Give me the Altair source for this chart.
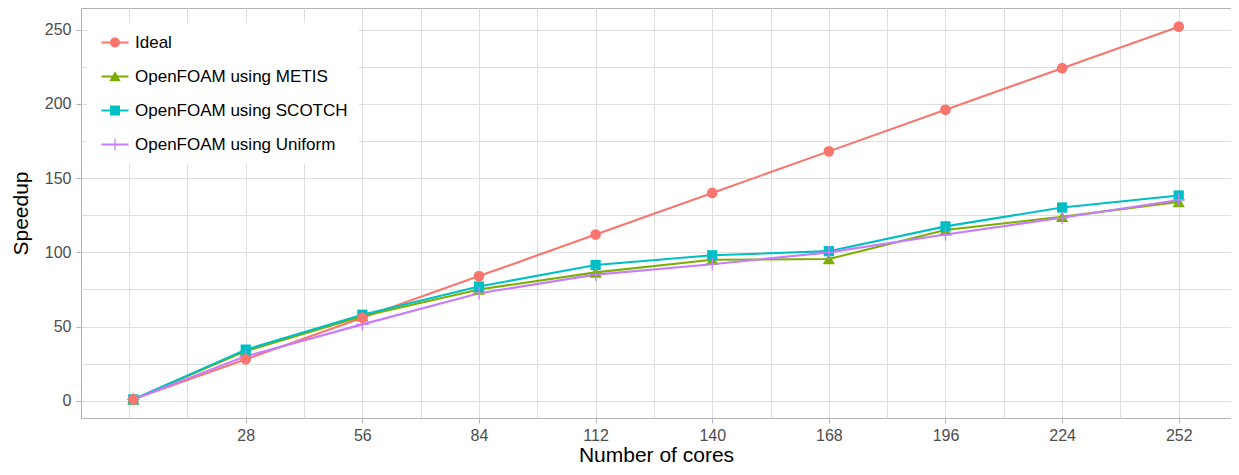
import altair as alt
import pandas as pd

# ---------------- data ----------------
CORES = [1, 28, 56, 84, 112, 140, 168, 196, 224, 252]
SERIES = ["Ideal", "OpenFOAM using METIS", "OpenFOAM using SCOTCH", "OpenFOAM using Uniform"]
IDEAL = [1, 28, 56, 84, 112, 140, 168, 196, 224, 252]
METIS = [1, 33.5, 57, 75, 86.5, 95, 95.5, 115, 124, 134]
SCOTCH = [1, 34.5, 58, 77, 91.5, 98, 100.8, 117.5, 130.2, 138.3]
UNIFORM = [1, 30, 51.5, 72.5, 85, 92, 100, 112, 123.3, 135.3]

X_TICKS = [28, 56, 84, 112, 140, 168, 196, 224, 252]
X_GRID = [0, 14, 28, 42, 56, 70, 84, 98, 112, 126, 140, 154, 168, 182, 196, 210, 224, 238, 252]
Y_TICKS = [0, 50, 100, 150, 200, 250]
Y_GRID = [0, 25, 50, 75, 100, 125, 150, 175, 200, 225, 250]

# ---------------- styles ----------------
COLORS = ["#F8766D", "#7CAE00", "#00BFC4", "#C77CFF"]
CROSS = "M-1,-0.1H1V0.1H-1Z M-0.1,-1H0.1V1H-0.1Z"
POINT_SHAPES = ["circle", "triangle-up", "square", CROSS]
POINT_SIZES = [115, 150, 105, 160]
LINE = "M-1,-0.2H4.4V0.2H-1Z "
LEGEND_SHAPES = [
    LINE + "M2.7,0A1,1 0 1,1 0.7,0A1,1 0 1,1 2.7,0Z",
    LINE + "M1.7,-1.05L2.85,0.95H0.55Z",
    LINE + "M0.7,-1H2.7V1H0.7Z",
    LINE + "M0.5,-0.12H2.9V0.12H0.5Z M1.58,-1.2H1.82V1.2H1.58Z",
]

rows = []
for name, vals in zip(SERIES, [IDEAL, METIS, SCOTCH, UNIFORM]):
    for c, v in zip(CORES, vals):
        rows.append({"cores": c, "speedup": v, "series": name})
df = pd.DataFrame(rows)

FONT = "Liberation Sans"

x_enc = alt.X(
    "cores:Q",
    scale=alt.Scale(domain=[-11.55, 264.55], nice=False, zero=False),
    axis=alt.Axis(
        values=X_GRID,
        labelExpr="indexof(" + str(X_TICKS) + ", datum.value) >= 0 ? datum.label : ''",
        tickOpacity={"condition": {"test": "indexof(" + str(X_TICKS) + ", datum.value) >= 0", "value": 1}, "value": 0},
        grid=True,
        title="Number of cores",
        titlePadding=1,
        labelPadding=4,
    ),
)
y_enc = alt.Y(
    "speedup:Q",
    scale=alt.Scale(domain=[-11.55, 264.55], nice=False, zero=False),
    axis=alt.Axis(
        values=Y_GRID,
        labelExpr="indexof(" + str(Y_TICKS) + ", datum.value) >= 0 ? datum.label : ''",
        tickOpacity={"condition": {"test": "indexof(" + str(Y_TICKS) + ", datum.value) >= 0", "value": 1}, "value": 0},
        grid=True,
        title="Speedup",
        titlePadding=13,
        labelPadding=5,
    ),
)

base = alt.Chart(df)

line_layers = []
for i in range(4):
    line_layers.append(
        base.transform_filter(alt.datum.series == SERIES[i])
        .mark_line(strokeWidth=2.1, color=COLORS[i])
        .encode(x=x_enc, y=y_enc)
    )

point_layers = []
for i in [1, 2, 3, 0]:
    point_layers.append(
        base.transform_filter(alt.datum.series == SERIES[i])
        .mark_point(shape=POINT_SHAPES[i], filled=True, size=POINT_SIZES[i], opacity=1,
                    strokeWidth=0, color=COLORS[i])
        .encode(x=x_enc, y=y_enc)
    )

leg = alt.Legend(
    title=None,
    orient="none",
    legendX=6,
    legendY=15,
    padding=11,
    fillColor="white",
    symbolSize=100,
    symbolStrokeWidth=0,
    symbolOpacity=1,
    labelFontSize=17,
    labelFont=FONT,
    labelColor="black",
    labelOffset=20,
    rowPadding=16,
    labelLimit=400,
)

legend_layer = base.transform_filter("false").mark_point(filled=True, opacity=1).encode(
    x=x_enc, y=y_enc,
    color=alt.Color("series:N", scale=alt.Scale(domain=SERIES, range=COLORS), legend=leg),
    shape=alt.Shape("series:N", scale=alt.Scale(domain=SERIES, range=LEGEND_SHAPES), legend=leg),
)

chart = alt.layer(*line_layers, *point_layers, legend_layer).properties(
    width=1150,
    height=410,
    autosize=alt.AutoSizeParams(type="none"),
    padding={"left": 73, "top": 0, "right": 0, "bottom": 49},
).configure(font=FONT).configure_view(
    stroke="#B3B3B3", strokeWidth=1
).configure_axis(
    domain=False,
    gridColor="#DEDEDE",
    gridWidth=1,
    tickColor="#B3B3B3",
    tickSize=5,
    tickWidth=1,
    labelFontSize=16,
    labelColor="#4D4D4D",
    labelFont=FONT,
    titleFont=FONT,
    titleFontSize=21,
    titleFontWeight="normal",
    titleColor="black",
)

chart.save("out.html", embed_options={"renderer": "svg", "actions": False})
